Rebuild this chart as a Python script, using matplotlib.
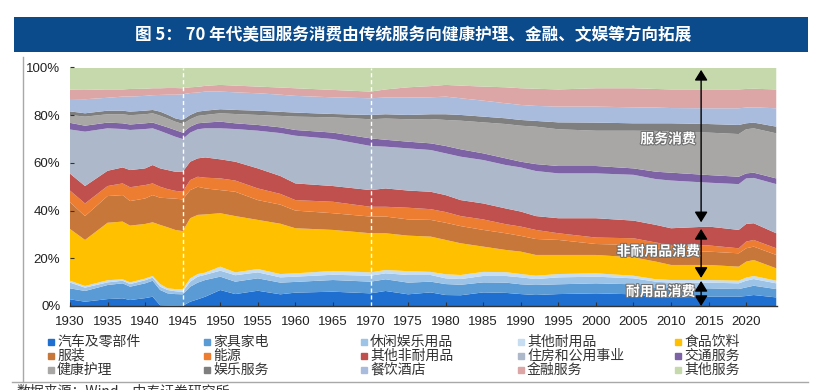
import matplotlib
matplotlib.use("Agg")
import matplotlib.pyplot as plt
from matplotlib.lines import Line2D
from matplotlib.patches import Rectangle
import matplotlib.patheffects as pe

CJK = ['Noto Sans CJK SC', 'DejaVu Sans']
plt.rcParams['font.family'] = ['Liberation Sans', 'DejaVu Sans']

# share of US personal consumption (%)
years = [1930, 1932, 1935, 1937, 1938, 1940, 1941, 1942, 1943, 1944, 1945, 1946, 1947, 1948,
         1950, 1952, 1955, 1958, 1960, 1965, 1970, 1972, 1975, 1978, 1980, 1982, 1985, 1988,
         1990, 1992, 1995, 2000, 2005, 2008, 2010, 2015, 2019, 2020, 2021, 2024]

autos = [2.8, 1.8, 2.9, 3.2, 2.5, 3.3, 3.9, 0.3, 0.2, 0.1, 0.1, 1.8, 2.8, 3.9, 6.7, 5.0, 6.4, 4.9, 5.6, 6.0,
         5.3, 6.3, 4.9, 5.7, 4.6, 4.5, 5.7, 5.5, 5.0, 4.6, 5.0, 5.3, 4.9, 3.9, 3.6, 3.9, 3.9, 4.2, 4.6, 3.6]
furniture = [4.6, 4.5, 5.9, 6.3, 5.6, 6.2, 6.7, 6.4, 5.1, 4.9, 4.8, 6.3, 7.0, 7.0, 5.6, 5.2, 5.2, 4.9, 4.5, 4.9,
             4.9, 4.9, 4.9, 4.5, 4.6, 4.4, 4.2, 4.3, 4.1, 4.2, 4.1, 4.2, 4.2, 3.8, 3.8, 3.5, 3.2, 3.6, 3.9, 3.5]
rec_goods = [2.4, 1.4, 1.1, 1.1, 1.1, 1.3, 1.3, 1.4, 1.4, 1.2, 1.1, 2.1, 2.5, 2.2, 2.5, 2.7, 2.5, 2.2, 2.2, 2.2,
             2.5, 2.5, 3.2, 2.8, 2.4, 2.4, 2.7, 2.8, 2.9, 2.5, 2.9, 2.8, 2.5, 2.5, 2.4, 2.4, 2.4, 2.8, 2.8, 2.4]
other_durables = [0.8, 0.7, 0.9, 0.6, 0.7, 0.7, 0.7, 1.1, 0.7, 0.9, 1.0, 1.4, 1.1, 0.9, 1.7, 1.2, 1.4, 1.4, 1.4, 1.6,
                  1.4, 1.4, 1.6, 1.3, 1.7, 1.7, 1.7, 1.6, 1.4, 1.4, 1.4, 1.4, 1.1, 1.0, 1.1, 1.1, 1.1, 1.3, 1.3, 1.1]
food = [21.7, 19.3, 24.1, 24.2, 23.8, 22.9, 22.5, 24.8, 25.6, 24.8, 24.4, 25.2, 24.8, 24.4, 22.4, 23.6, 20.6, 21.1,
        18.9, 17.2, 16.4, 15.4, 14.9, 14.8, 14.4, 13.3, 10.6, 9.3, 9.4, 8.7, 8.0, 7.7, 7.7, 7.4, 6.3, 6.3, 5.9,
        6.7, 6.7, 5.2]
clothing = [11.2, 10.0, 11.2, 11.1, 10.3, 10.7, 11.4, 11.4, 12.2, 13.1, 13.3, 11.8, 11.8, 10.9, 9.7, 10.2, 8.3, 8.0,
            7.4, 7.0, 7.0, 7.0, 6.8, 7.0, 7.2, 7.2, 7.0, 7.0, 6.6, 6.7, 6.3, 4.6, 5.2, 5.6, 6.0, 5.6, 5.6, 5.6,
            5.6, 5.6]
energy = [4.9, 5.3, 4.2, 4.9, 5.8, 5.6, 4.9, 4.6, 3.8, 3.3, 3.2, 4.2, 4.2, 4.5, 4.9, 4.7, 4.9, 4.5, 4.4, 4.8,
          4.1, 4.1, 4.9, 4.5, 4.5, 4.2, 4.4, 3.8, 3.9, 3.8, 2.8, 2.7, 2.8, 2.4, 2.4, 2.6, 2.1, 2.8, 2.8, 2.8]
other_nondurables = [7.1, 7.3, 6.4, 6.7, 7.2, 7.0, 7.7, 7.7, 8.0, 8.0, 8.4, 7.7, 7.7, 8.5, 8.0, 7.9, 8.4, 7.5, 7.0,
                     6.6, 7.0, 7.7, 7.2, 7.3, 7.1, 6.7, 6.7, 6.6, 6.3, 5.8, 6.3, 8.1, 7.4, 7.4, 7.0, 7.9, 7.7,
                     7.4, 7.0, 6.3]
housing = [18.5, 22.8, 17.8, 16.1, 16.8, 16.5, 15.4, 15.7, 15.2, 14.7, 13.7, 12.2, 12.2, 12.2, 13.0, 13.7, 15.8,
           18.0, 20.0, 19.7, 18.5, 17.5, 17.7, 17.5, 17.5, 18.2, 18.2, 18.2, 18.5, 18.9, 18.8, 18.8, 19.2, 19.2,
           20.0, 18.4, 19.2, 19.1, 19.0, 20.6]
transport = [2.8, 2.5, 2.4, 2.4, 2.3, 2.4, 2.4, 2.5, 2.7, 2.8, 2.7, 2.5, 2.5, 2.4, 2.8, 2.4, 2.4, 2.4, 2.4, 2.7,
             3.2, 2.9, 2.8, 2.8, 3.1, 3.1, 2.8, 2.8, 2.4, 2.9, 3.1, 3.1, 2.7, 3.1, 3.3, 3.2, 3.1, 2.1, 2.2, 2.4]
health = [3.3, 3.8, 3.5, 3.8, 3.9, 3.8, 3.9, 3.9, 3.7, 3.5, 3.6, 3.1, 3.1, 3.2, 3.5, 3.9, 4.2, 4.8, 5.6, 6.4,
          8.0, 8.9, 9.4, 10.2, 10.9, 12.0, 13.0, 14.4, 15.1, 15.7, 15.4, 14.8, 15.8, 17.1, 17.2, 17.8, 17.9,
          18.5, 18.6, 18.9]
rec_services = [1.5, 1.4, 1.5, 1.5, 1.5, 1.5, 1.4, 1.7, 1.6, 1.4, 1.7, 1.8, 1.8, 1.8, 1.7, 1.7, 1.8, 1.7, 1.7, 1.4,
                1.8, 1.8, 1.8, 2.0, 2.4, 2.4, 2.4, 2.4, 2.4, 2.4, 2.9, 3.4, 3.1, 3.2, 3.5, 3.6, 3.8, 2.5, 2.4, 2.8]
food_services = [5.2, 5.9, 5.4, 5.9, 6.3, 6.2, 6.2, 7.0, 8.4, 9.9, 10.8, 9.2, 8.0, 8.0, 7.4, 7.4, 7.3, 7.2, 7.0,
                 7.0, 7.0, 7.0, 7.3, 7.1, 7.4, 7.0, 6.7, 6.3, 6.3, 6.3, 6.6, 6.7, 6.7, 6.6, 6.4, 6.6, 7.0, 6.6,
                 6.4, 7.7]
financial = [3.9, 3.9, 3.5, 3.0, 3.2, 3.0, 2.9, 2.8, 2.8, 2.8, 2.5, 2.4, 2.4, 2.4, 2.8, 2.8, 2.8, 3.0, 3.2, 3.1,
             2.8, 3.4, 4.3, 4.7, 4.9, 5.3, 5.9, 6.7, 7.0, 7.2, 7.2, 7.7, 8.0, 7.8, 7.8, 7.9, 7.9, 7.8, 7.8, 7.9]
other_services = [9.3, 9.4, 9.2, 9.2, 9.0, 8.9, 8.7, 8.7, 8.6, 8.6, 8.7, 8.3, 8.1, 7.7, 7.3, 7.6, 8.0, 8.4, 8.7,
                  9.4, 10.1, 9.2, 8.3, 7.8, 7.3, 7.6, 8.0, 8.3, 8.7, 8.9, 9.2, 8.7, 8.7, 9.0, 9.2, 9.2, 9.2, 9.0,
                  8.9, 9.2]

labels = ["汽车及零部件", "家具家电", "休闲娱乐用品", "其他耐用品", "食品饮料",
          "服装", "能源", "其他非耐用品", "住房和公用事业", "交通服务",
          "健康护理", "娱乐服务", "餐饮酒店", "金融服务", "其他服务"]
colors = ["#1F6FD0", "#5B9BD5", "#9DC3E6", "#C6DDF2", "#FFC000",
          "#C8773A", "#ED7D31", "#C0504D", "#ADB9CA", "#7E62A6",
          "#A9A7A6", "#7F7F7F", "#AABCDE", "#DCA6A7", "#C5D9AC"]

series = [autos, furniture, rec_goods, other_durables, food, clothing, energy, other_nondurables,
          housing, transport, health, rec_services, food_services, financial, other_services]

W, H = 815, 390


def fx(px):
    return px / W


def fy(py):
    return 1 - py / H


fig = plt.figure(figsize=(W / 100, H / 100), dpi=100)

# title bar
fig.add_artist(Rectangle((fx(14), fy(52)), 794 / W, 35 / H, transform=fig.transFigure,
                         facecolor="#0B4A8B", edgecolor="none", zorder=0))
fig.text(fx(413), fy(35), "图 5： 70 年代美国服务消费由传统服务向健康护理、金融、文娱等方向拓展",
         color="white", fontsize=12, fontweight="bold", family=CJK, ha="center", va="center")

# frame lines
fig.add_artist(Line2D([fx(23), fx(23)], [fy(57), fy(382)], transform=fig.transFigure,
                      color="#A8A8A8", lw=1))
fig.add_artist(Line2D([fx(12), fx(808)], [fy(382), fy(382)], transform=fig.transFigure,
                      color="#A8A8A8", lw=1))

ax = fig.add_axes([fx(70), fy(306), 707 / W, 238.5 / H])
ax.stackplot(years, *series, colors=colors, linewidth=0)
ax.set_xlim(1930, 2024.1)
ax.set_ylim(0, 100)

for yr in (1945, 1970):
    ax.axvline(yr, color="white", lw=1, ls=(0, (3, 2)))

ax.set_xticks(range(1930, 2021, 5))
ax.set_yticks(range(0, 101, 20))
ax.set_yticklabels([f"{v}%" for v in range(0, 101, 20)])
ax.tick_params(direction="in", length=3, width=0.8, color="#333333", labelsize=9.5,
               labelcolor="#222222")
ax.tick_params(axis="x", pad=7)
ax.tick_params(axis="y", pad=7)
for side in ("top", "right", "left"):
    ax.spines[side].set_visible(False)
ax.spines["bottom"].set_color("#333333")
ax.spines["bottom"].set_linewidth(1)

# brackets for the three consumption groups
arrow = dict(arrowstyle="<|-|>,head_length=0.45,head_width=0.28", color="black", lw=1,
             mutation_scale=14, shrinkA=0, shrinkB=0)
ax.annotate("", xy=(2014, 35.1), xytext=(2014, 99.0), arrowprops=arrow)
ax.annotate("", xy=(2014, 11.8), xytext=(2014, 32.3), arrowprops=arrow)
ax.annotate("", xy=(2014, 0.0), xytext=(2014, 10.5), arrowprops=arrow)

halo = [pe.withStroke(linewidth=1.5, foreground="#6E6E6E")]
ax.text(2009.6, 69.9, "服务消费", color="white", fontsize=10, fontweight="bold", family=CJK,
        ha="center", va="center", path_effects=halo)
ax.text(2008.3, 22.8, "非耐用品消费", color="white", fontsize=10, fontweight="bold", family=CJK,
        ha="center", va="center", path_effects=halo)
ax.text(2008.6, 5.9, "耐用品消费", color="white", fontsize=10, fontweight="bold", family=CJK,
        ha="center", va="center", path_effects=halo)

# legend, laid out row by row like the original
col_x = [51, 207, 364, 521, 678]
row_y = [342, 356, 370]
for i, (name, c) in enumerate(zip(labels, colors)):
    r, k = divmod(i, 5)
    fig.add_artist(Line2D([fx(col_x[k])], [fy(row_y[r])], transform=fig.transFigure,
                          marker="s", markersize=4.5, color=c, lw=0))
    fig.text(fx(col_x[k] + 6), fy(row_y[r]), name, fontsize=10, family=CJK, color="#333333",
             ha="left", va="center")

# source line, cut by the bottom edge as in the original
fig.text(fx(16), fy(384), "数据来源：Wind，中泰证券研究所", fontsize=10, family=CJK,
         color="#333333", ha="left", va="top")

fig.savefig("out.png", dpi=100)
